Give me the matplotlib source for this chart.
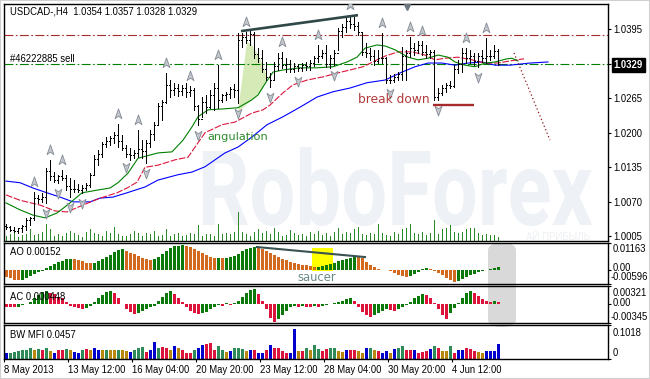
import numpy as np
import matplotlib
matplotlib.use("Agg")
import matplotlib.pyplot as plt
from matplotlib.path import Path
from matplotlib.textpath import TextPath
from matplotlib.patches import PathPatch, Polygon, Rectangle, FancyBboxPatch
from matplotlib.font_manager import FontProperties
from matplotlib.transforms import Affine2D

plt.rcParams['font.family'] = ['Liberation Sans', 'DejaVu Sans']

# ---- price bars (H4) ----
first_open = 1.0024
highs = [1.0028, 1.0025, 1.0023, 1.0021, 1.0027, 1.0040, 1.0042, 1.0089, 1.0083, 1.0087,
         1.0134, 1.0149, 1.0126, 1.0121, 1.0130, 1.0121, 1.0115, 1.0111, 1.0104, 1.0102,
         1.0106, 1.0124, 1.0158, 1.0168, 1.0183, 1.0192, 1.0194, 1.0201, 1.0216, 1.0196,
         1.0177, 1.0171, 1.0168, 1.0205, 1.0186, 1.0186, 1.0205, 1.0220, 1.0256, 1.0262,
         1.0312, 1.0299, 1.0294, 1.0292, 1.0290, 1.0294, 1.0288, 1.0284, 1.0252, 1.0267,
         1.0271, 1.0280, 1.0294, 1.0327, 1.0273, 1.0277, 1.0286, 1.0292, 1.0387, 1.0387,
         1.0389, 1.0393, 1.0389, 1.0359, 1.0356, 1.0333, 1.0312, 1.0333, 1.0350, 1.0352,
         1.0340, 1.0337, 1.0331, 1.0329, 1.0331, 1.0333, 1.0337, 1.0344, 1.0365, 1.0356,
         1.0365, 1.0346, 1.0356, 1.0397, 1.0404, 1.0416, 1.0421, 1.0418, 1.0408, 1.0387,
         1.0369, 1.0359, 1.0356, 1.0356, 1.0387, 1.0342, 1.0309, 1.0310, 1.0314, 1.0361,
         1.0356, 1.0380, 1.0369, 1.0372, 1.0372, 1.0365, 1.0356, 1.0356, 1.0284, 1.0290,
         1.0294, 1.0297, 1.0327, 1.0337, 1.0359, 1.0359, 1.0356, 1.0350, 1.0350, 1.0356,
         1.0378, 1.0356, 1.0365, 1.0357]
lows = [1.0019, 1.0015, 1.0013, 1.0012, 1.0013, 1.0017, 1.0027, 1.0036, 1.0068, 1.0070,
        1.0068, 1.0111, 1.0107, 1.0106, 1.0111, 1.0092, 1.0079, 1.0089, 1.0089, 1.0087,
        1.0092, 1.0098, 1.0121, 1.0139, 1.0154, 1.0173, 1.0177, 1.0181, 1.0173, 1.0168,
        1.0154, 1.0149, 1.0152, 1.0154, 1.0152, 1.0143, 1.0173, 1.0186, 1.0215, 1.0224,
        1.0256, 1.0267, 1.0271, 1.0269, 1.0271, 1.0267, 1.0269, 1.0243, 1.0215, 1.0230,
        1.0237, 1.0247, 1.0243, 1.0247, 1.0258, 1.0262, 1.0265, 1.0267, 1.0256, 1.0361,
        1.0369, 1.0365, 1.0340, 1.0333, 1.0314, 1.0299, 1.0286, 1.0299, 1.0318, 1.0322,
        1.0314, 1.0314, 1.0314, 1.0316, 1.0316, 1.0318, 1.0318, 1.0325, 1.0333, 1.0340,
        1.0324, 1.0322, 1.0327, 1.0356, 1.0380, 1.0389, 1.0397, 1.0393, 1.0384, 1.0346,
        1.0342, 1.0337, 1.0327, 1.0331, 1.0331, 1.0294, 1.0294, 1.0295, 1.0299, 1.0299,
        1.0299, 1.0342, 1.0346, 1.0350, 1.0346, 1.0340, 1.0340, 1.0262, 1.0262, 1.0271,
        1.0277, 1.0284, 1.0286, 1.0312, 1.0314, 1.0331, 1.0331, 1.0327, 1.0324, 1.0333,
        1.0331, 1.0337, 1.0340, 1.0328]
closes = [1.0022, 1.0018, 1.0016, 1.0020, 1.0025, 1.0035, 1.0040, 1.0078, 1.0075, 1.0080,
          1.0128, 1.0118, 1.0112, 1.0118, 1.0115, 1.0100, 1.0095, 1.0095, 1.0093, 1.0096,
          1.0102, 1.0120, 1.0150, 1.0160, 1.0178, 1.0185, 1.0190, 1.0195, 1.0185, 1.0172,
          1.0160, 1.0158, 1.0162, 1.0170, 1.0165, 1.0180, 1.0198, 1.0215, 1.0250, 1.0258,
          1.0290, 1.0280, 1.0285, 1.0278, 1.0284, 1.0276, 1.0280, 1.0250, 1.0225, 1.0258,
          1.0248, 1.0270, 1.0285, 1.0262, 1.0270, 1.0272, 1.0282, 1.0280, 1.0375, 1.0380,
          1.0375, 1.0385, 1.0348, 1.0340, 1.0320, 1.0305, 1.0300, 1.0325, 1.0340, 1.0328,
          1.0330, 1.0320, 1.0325, 1.0322, 1.0328, 1.0325, 1.0332, 1.0340, 1.0345, 1.0350,
          1.0330, 1.0340, 1.0350, 1.0392, 1.0398, 1.0410, 1.0405, 1.0400, 1.0390, 1.0352,
          1.0350, 1.0345, 1.0335, 1.0340, 1.0340, 1.0300, 1.0300, 1.0305, 1.0310, 1.0345,
          1.0350, 1.0360, 1.0355, 1.0365, 1.0352, 1.0348, 1.0352, 1.0268, 1.0275, 1.0285,
          1.0290, 1.0288, 1.0320, 1.0330, 1.0350, 1.0340, 1.0345, 1.0335, 1.0345, 1.0340,
          1.0345, 1.0345, 1.0354, 1.0329]
volumes = [5, 7, 9, 4, 6, 7, 12, 6, 7, 9,
           16, 12, 5, 7, 5, 8, 10, 8, 6, 4,
           9, 12, 8, 7, 5, 10, 8, 14, 7, 5,
           5, 7, 10, 8, 5, 8, 7, 10, 5, 6,
           12, 5, 7, 8, 5, 6, 8, 7, 15, 5,
           7, 7, 5, 16, 7, 8, 7, 9, 28, 9,
           7, 5, 9, 12, 8, 10, 7, 13, 9, 5,
           6, 11, 8, 6, 7, 5, 9, 7, 10, 6,
           8, 5, 9, 13, 7, 9, 8, 12, 14, 7,
           6, 8, 7, 16, 8, 6, 5, 9, 7, 12,
           13, 16, 8, 7, 9, 6, 8, 20, 7, 12,
           13, 15, 9, 8, 9, 12, 13, 13, 8, 6,
           7, 6, 6, 4]

# ---- Alligator lines ----
lips_bar = [0, 3.5, 6.75, 9.75, 12.75, 16, 19, 22.75, 26, 28,
            30.5, 33, 38, 41.5, 44.25, 46.5, 48, 50.5, 54.75, 58,
            61.5, 63, 65, 66.75, 69.25, 73.5, 77.75, 81.75, 85.25, 87.75,
            89.75, 92.75, 94.75, 97.25, 100.5, 103, 105.5, 108, 110.5, 112.25,
            114.75, 117.25, 119.75, 122.25, 125.25, 126.5, 128]
lips_val = [1.0068, 1.0055, 1.0045, 1.0040, 1.0049, 1.0068, 1.0087, 1.0092, 1.0096, 1.0106,
            1.0124, 1.0152, 1.0162, 1.0164, 1.0186, 1.0211, 1.0230, 1.0243, 1.0245, 1.0247,
            1.0262, 1.0271, 1.0295, 1.0314, 1.0318, 1.0322, 1.0322, 1.0324, 1.0333, 1.0342,
            1.0359, 1.0365, 1.0363, 1.0356, 1.0342, 1.0337, 1.0340, 1.0346, 1.0342, 1.0333,
            1.0327, 1.0324, 1.0331, 1.0333, 1.0339, 1.0340, 1.0335]
teeth_bar = [0, 3.5, 8.5, 12.25, 15.25, 19.25, 23.5, 27.75, 30.25, 32.75,
             34.75, 38, 42.25, 45.5, 48, 49.75, 54, 57.25, 61.5, 64.25,
             66, 69.25, 71.75, 75.25, 79.25, 82.75, 86, 89.25, 92.75, 94.75,
             98, 101.5, 104.75, 107.25, 109.75, 113, 116.5, 119.75, 123, 126,
             129.5]
teeth_val = [1.0083, 1.0073, 1.0064, 1.0053, 1.0051, 1.0064, 1.0077, 1.0087, 1.0096, 1.0107,
             1.0135, 1.0139, 1.0149, 1.0154, 1.0181, 1.0200, 1.0215, 1.0220, 1.0237, 1.0243,
             1.0252, 1.0275, 1.0290, 1.0299, 1.0305, 1.0312, 1.0318, 1.0324, 1.0337, 1.0344,
             1.0352, 1.0352, 1.0346, 1.0337, 1.0340, 1.0342, 1.0337, 1.0331, 1.0331, 1.0335,
             1.0339]
jaw_bar = [0, 3.5, 6.75, 10.25, 13.5, 16.75, 21, 23.5, 26.75, 30.25,
           34.75, 38, 43, 46.5, 49.75, 52.25, 54.75, 58, 61.5, 65.25,
           69.25, 73.5, 77.75, 81.75, 86, 90.25, 94.75, 99, 102.25, 105.5,
           109, 112.25, 115.5, 119, 122.25, 126, 131, 135.5]
jaw_val = [1.0109, 1.0106, 1.0096, 1.0087, 1.0079, 1.0070, 1.0070, 1.0077, 1.0079, 1.0087,
           1.0098, 1.0111, 1.0121, 1.0126, 1.0136, 1.0149, 1.0162, 1.0173, 1.0192, 1.0215,
           1.0230, 1.0248, 1.0267, 1.0277, 1.0284, 1.0294, 1.0299, 1.0314, 1.0324, 1.0331,
           1.0331, 1.0327, 1.0331, 1.0333, 1.0327, 1.0327, 1.0331, 1.0333]

up_fractals = [7, 11, 14, 28, 33, 40, 46, 53, 60, 69, 78, 86, 94, 101, 104, 115, 120]
down_fractals = [10, 13, 16, 19, 30, 35, 48, 58, 66, 73, 82, 96, 108, 118]

# drawn objects on the price chart
stop_level = 1.0384
order_level = 1.0329
trend_bar = [58.75, 88]
trend_val = [1.0391, 1.0421]
break_bar = [106.75, 117]
break_val = 1.0252
forecast_bar = [127, 136]
forecast_val = [1.0350, 1.0186]
angle_bar = [58, 60.25, 61.5, 63, 64.25, 65.25, 64, 61]
angle_val = [1.0239, 1.0371, 1.0365, 1.0346, 1.0327, 1.0303, 1.0280, 1.0258]

# ---- oscillators ----
ao_vals = [-3.0, -3.5, -4.1, -4.4, -4.3, -3.6, -2.7, -1.8, -0.9, -0.2,
           0.8, 1.8, 2.6, 3.4, 4.1, 4.6, 4.9, 4.7, 4.2, 3.7,
           3.2, 2.9, 3.1, 3.8, 4.6, 5.6, 6.6, 7.6, 8.5, 9.0,
           8.3, 7.5, 6.7, 5.9, 5.3, 4.8, 4.4, 4.6, 5.6, 7.0,
           8.4, 9.5, 10.2, 10.5, 10.8, 10.5, 9.9, 9.0, 8.1, 7.2,
           6.4, 5.8, 5.3, 5.4, 5.2, 5.3, 5.6, 6.2, 7.0, 8.0,
           9.0, 9.6, 10.0, 9.8, 9.2, 8.2, 7.2, 6.3, 5.5, 4.8,
           4.2, 3.6, 3.1, 2.7, 2.3, 2.0, 1.7, 1.4, 1.5, 1.8,
           2.2, 2.7, 3.2, 3.7, 4.3, 4.9, 5.4, 6.0, 5.8, 5.2,
           3.5, 2.2, 1.2, 0.5, 0.2, -0.1, -0.5, -1.2, -1.9, -2.5,
           -2.9, -2.4, -1.7, -1.0, 0.5, 1.0, 0.6, -0.2, -1.2, -2.3,
           -3.4, -4.3, -5.0, -4.6, -3.8, -3.0, -2.3, -1.6, -1.0, -0.5,
           0.0, 0.5, 1.0, 1.5]
ac_vals = [-0.5, -0.6, -0.6, -0.5, -0.2, -0.1, 0.3, 1.0, 1.6, 2.1,
           2.3, 2.0, 1.7, 1.3, 1.0, 0.3, -0.3, -0.6, -0.8, -0.9,
           -0.7, -0.4, 0.3, 1.0, 1.6, 2.1, 2.4, 2.0, 1.0, -0.1,
           -0.9, -1.5, -1.8, -1.6, -1.3, -1.0, -0.6, -0.3, 0.5, 1.3,
           2.0, 2.4, 1.8, 1.0, 0.3, -0.5, -1.2, -1.7, -1.8, -1.7,
           -1.4, -1.0, -0.5, -0.2, -0.3, 0.1, -0.2, 0.2, 0.6, 1.2,
           1.9, 2.5, 2.7, 1.8, 0.5, -1.0, -2.6, -3.2, -2.7, -2.0,
           -1.3, -0.6, -0.4, -0.5, -0.3, -0.5, -0.6, -0.4, -0.5, -0.3,
           -0.2, 0.0, 0.1, 0.3, 0.6, 0.9, 1.0, 0.6, -0.5, -1.4,
           -2.0, -2.3, -2.0, -1.7, -1.3, -1.0, -1.1, -1.2, -1.0, -0.6,
           -0.2, 0.4, 1.0, 1.5, 1.8, 1.6, 1.0, 0.2, -1.0, -2.0,
           -2.8, -1.7, -0.8, 0.2, 1.1, 1.9, 2.4, 2.0, 1.4, 0.9,
           0.6, 0.4, 0.5, 0.3]
mfi_vals = [0.018, 0.018, 0.021, 0.024, 0.027, 0.027, 0.033, 0.027, 0.030, 0.027,
            0.033, 0.024, 0.018, 0.027, 0.027, 0.030, 0.027, 0.021, 0.018, 0.027,
            0.030, 0.027, 0.033, 0.027, 0.027, 0.027, 0.027, 0.027, 0.027, 0.027,
            0.024, 0.021, 0.027, 0.033, 0.036, 0.021, 0.027, 0.051, 0.033, 0.036,
            0.033, 0.027, 0.039, 0.033, 0.027, 0.018, 0.018, 0.027, 0.033, 0.042,
            0.045, 0.048, 0.027, 0.039, 0.027, 0.021, 0.024, 0.033, 0.033, 0.030,
            0.024, 0.027, 0.027, 0.018, 0.018, 0.027, 0.042, 0.033, 0.033, 0.024,
            0.018, 0.018, 0.090, 0.024, 0.024, 0.033, 0.027, 0.042, 0.030, 0.024,
            0.030, 0.033, 0.033, 0.024, 0.021, 0.027, 0.027, 0.027, 0.024, 0.018,
            0.033, 0.033, 0.027, 0.024, 0.018, 0.024, 0.018, 0.030, 0.033, 0.039,
            0.027, 0.027, 0.027, 0.018, 0.021, 0.024, 0.030, 0.039, 0.033, 0.024,
            0.024, 0.039, 0.018, 0.027, 0.027, 0.033, 0.030, 0.024, 0.021, 0.018,
            0.024, 0.024, 0.024, 0.0457]
# g = green, o = brown (fade), p = pink (squat), b = blue (fake)
mfi_kind = ("bggggggogp"
            "gobppgobbg"
            "pobbogoogo"
            "obgggpbbgp"
            "pobopppgbb"
            "pppggobggg"
            "obpbbpbppp"
            "pbbopgoggp"
            "pggoobppoo"
            "bgopbbobgg"
            "ppbpppbgpo"
            "ogpbbpppoo"
            "bbbb")

ao_label, ac_label, mfi_label = "AO 0.00152", "AC 0.000448", "BW MFI 0.0457"
price_ticks = [1.0395, 1.0329, 1.0265, 1.0200, 1.0135, 1.0070, 1.0005]
date_ticks = ['8 May 2013', '13 May 12:00', '16 May 04:00', '20 May 20:00',
              '23 May 12:00', '28 May 04:00', '30 May 20:00', '4 Jun 12:00']

W, H = 650, 379
FS = 6.85
fig = plt.figure(figsize=(W / 100, H / 100), dpi=100)
fig.patch.set_facecolor('white')


def px_axes(x0, y0, x1, y1):
    a = fig.add_axes([x0 / W, 1 - y1 / H, (x1 - x0) / W, (y1 - y0) / H])
    a.set_facecolor('none')
    for s in a.spines.values():
        s.set_linewidth(1.0)
        s.set_color('black')
    return a


def ftxt(x, y, s, **kw):
    kw.setdefault('fontsize', FS)
    kw.setdefault('va', 'center')
    fig.text(x / W, 1 - y / H, s, **kw)


n = len(highs)
idx = np.arange(n)
opens = [first_open] + closes[:-1]

# volume + watermark layer sits under the price axes
vol = px_axes(4, 4, 608, 241)
vol.set_xlim(-0.5, 150.5)
vol.set_ylim(0, max(volumes) * 237 / 29)
vol.axis('off')
wm = TextPath((0, 0), "RoboForex", size=1,
              prop=FontProperties(family='Roboto', weight='bold'))
ext = wm.get_extents()
x0, x1, y0, y1 = 0.329, 0.974, 0.063, 0.397
tr = Affine2D().translate(-ext.x0, -ext.y0).scale((x1 - x0) / ext.width,
                                                  (y1 - y0) / ext.height).translate(x0, y0)
vol.add_patch(PathPatch(tr.transform_path(wm), transform=vol.transAxes,
                        fc='#eef1f5', ec='none', zorder=0))
vol.text(0.97, 0.018, "АЙ ПРИБЫЛЬ", transform=vol.transAxes, ha='right', va='center',
         fontsize=7, color='#eef0f3', zorder=0)
vol.vlines(idx, 0, volumes, color='#2a8a2a', lw=0.72, antialiased=False, zorder=1)

ax = px_axes(4, 4, 608, 241)
ao = px_axes(4, 243, 608, 284)
ac = px_axes(4, 286, 608, 323)
mf = px_axes(4, 325, 608, 359)

for a in (ax, ao, ac, mf):
    a.set_xlim(-0.5, 150.5)
    a.set_xticks([])
    a.yaxis.tick_right()
    a.tick_params(axis='y', direction='out', length=2.5, width=0.8, pad=1.5,
                  labelsize=FS, left=False, labelleft=False, right=True, labelright=True)

# grey cursor highlight behind AO / AC
fig.patches.append(FancyBboxPatch((488 / W, 1 - 327 / H), 28 / W, 84 / H,
                                  boxstyle='round,pad=0,rounding_size=0.02',
                                  transform=fig.transFigure, fc='#d9d9d9',
                                  ec='none', zorder=-1))

# ---- main panel ----
ax.set_ylim(0.99964, 1.04420)
ax.add_patch(Polygon(list(zip(angle_bar, angle_val)), closed=True, fc='#d6eab8',
                     ec='none', zorder=1))
ax.axhline(stop_level, color='#a52a2a', lw=0.8, dashes=(8, 2.2, 1.5, 2.2), zorder=1)
ax.axhline(order_level, color='#008000', lw=0.8, dashes=(8, 2.2, 1.5, 2.2), zorder=1)

ax.plot(jaw_bar, jaw_val, color='#0000ff', lw=0.8, zorder=2)
ax.plot(teeth_bar, teeth_val, color='#dc143c', lw=0.8, dashes=(6, 1.5), zorder=2)
ax.plot(lips_bar, lips_val, color='#008000', lw=0.8, zorder=2)

ax.vlines(idx, lows, highs, color='black', lw=0.72, antialiased=False, zorder=3)
ax.hlines(opens, idx - 0.3, idx, color='black', lw=0.72, antialiased=False, zorder=3)
ax.hlines(closes, idx, idx + 0.3, color='black', lw=0.72, antialiased=False, zorder=3)

up_arrow = Path([(0, 1), (0.62, -0.75), (0, -0.3), (-0.62, -0.75), (0, 1)],
                [Path.MOVETO, Path.LINETO, Path.LINETO, Path.LINETO, Path.CLOSEPOLY])
down_arrow = Path([(0, -1), (0.62, 0.75), (0, 0.3), (-0.62, 0.75), (0, -1)],
                  up_arrow.codes)
off = 0.0019
ax.plot(up_fractals, [highs[i] + off for i in up_fractals], ls='none', marker=up_arrow,
        ms=8, mfc='#c4c8cd', mec='#838a94', mew=0.6, zorder=4)
ax.plot(down_fractals, [lows[i] - off for i in down_fractals], ls='none', marker=down_arrow,
        ms=8, mfc='#c4c8cd', mec='#838a94', mew=0.6, zorder=4)
ax.plot([100.25], [1.0437], ls='none', marker='v', ms=5, color='#6c7680', zorder=5,
        clip_on=False)

ax.plot(trend_bar, trend_val, color='#304848', lw=1.9, solid_capstyle='butt', zorder=5)
ax.plot(break_bar, [break_val, break_val], color='#a52a2a', lw=1.7,
        solid_capstyle='butt', zorder=5)
ax.plot(forecast_bar, forecast_val, color='#8b1a1a', lw=0.9, ls=(0, (1, 2)), zorder=5)
ax.text(88, 1.0262, "break down", color='#b03a3a', fontsize=8.8, va='center',
        family='DejaVu Sans', zorder=6)
ax.text(50.25, 1.0192, "angulation", color='#2e8b2e', fontsize=8.2, va='center',
        family='DejaVu Sans', zorder=6)

ax.set_yticks(price_ticks)
ax.set_yticklabels([f"{p:.4f}" for p in price_ticks])
for lbl in ax.get_yticklabels():
    if lbl.get_text() == f"{order_level:.4f}":
        lbl.set_color('white')
        lbl.set_fontweight('bold')
        lbl.set_bbox(dict(boxstyle='square,pad=0.2', fc='black', ec='black'))

ftxt(10, 12, "USDCAD-,H4  1.0354 1.0357 1.0328 1.0329")
ftxt(10, 59, "#46222885 sell")

# ---- AO ----
ao.set_ylim(-0.00596, 0.01163)
ao_v = np.array(ao_vals) * 1e-3
ao_up = np.concatenate([[False], np.diff(ao_v) > 0])
ao.add_patch(Rectangle((76.5, -0.0004), 5.25, 0.0098, fc='#ffff00', ec='none', zorder=1))
ao.bar(idx, ao_v, width=0.75, color=np.where(ao_up, '#0b7a0b', '#d2691e'),
       linewidth=0, zorder=2)
ao.plot([62.75, 89.75], [0.0099, 0.0056], color='#3a5252', lw=1.5, zorder=3)
ao.text(72.75, -0.0030, "saucer", color='#6a8a8a', fontsize=8.3, va='center',
        family='DejaVu Sans', zorder=4)
ao.set_yticks([0.01163, 0.0, -0.00596])
ao.set_yticklabels([])
ftxt(10, 252, ao_label)
ftxt(613, 249, "0.01163")
ftxt(613, 268, "0.00")
ftxt(611, 277, "-0.00596")

# ---- AC ----
ac.set_ylim(-0.00345, 0.00321)
ac_v = np.array(ac_vals) * 1e-3
ac_up = np.concatenate([[False], np.diff(ac_v) > 0])
ftxt(10, 297, ac_label)
ac.bar(idx, ac_v, width=0.75, color=np.where(ac_up, '#0b7a0b', '#dc143c'),
       linewidth=0, zorder=2)
ac.set_yticks([0.00321, 0.0, -0.00345])
ac.set_yticklabels([])
ftxt(613, 293, "0.00321")
ftxt(613, 303, "0.00")
ftxt(611, 317, "-0.00345")

# ---- BW MFI ----
mf.set_ylim(0, 0.1018)
kind_col = {'g': '#2e8b57', 'o': '#b8860b', 'p': '#dc143c', 'b': '#0000cd'}
mfi_v = np.array(mfi_vals)
kinds = np.array(list(mfi_kind[:n]))
thick = kinds != 'b'
mf.bar(idx[thick], mfi_v[thick], width=0.75, color=[kind_col[k] for k in kinds[thick]],
       linewidth=0, zorder=2)
mf.vlines(idx[~thick], 0, mfi_v[~thick], color=kind_col['b'], lw=0.8,
          antialiased=False, zorder=2)
mf.set_yticks([0.1018, 0.0])
mf.set_yticklabels([])
ftxt(10, 335, mfi_label)
ftxt(613, 333, "0.1018")
ftxt(613, 353, "0")

mf.set_xticks([-0.5 + 16 * k for k in range(len(date_ticks))])
mf.set_xticklabels(date_ticks, ha='left')
mf.tick_params(axis='x', direction='out', length=2.5, width=0.8, pad=1.5, labelsize=FS)

fig.patches.append(Rectangle((0, 0), 1, 1, transform=fig.transFigure, fill=False,
                             ec='#d0d0d0', lw=1.5, zorder=10))

fig.savefig("out.png", dpi=100, facecolor='white')
